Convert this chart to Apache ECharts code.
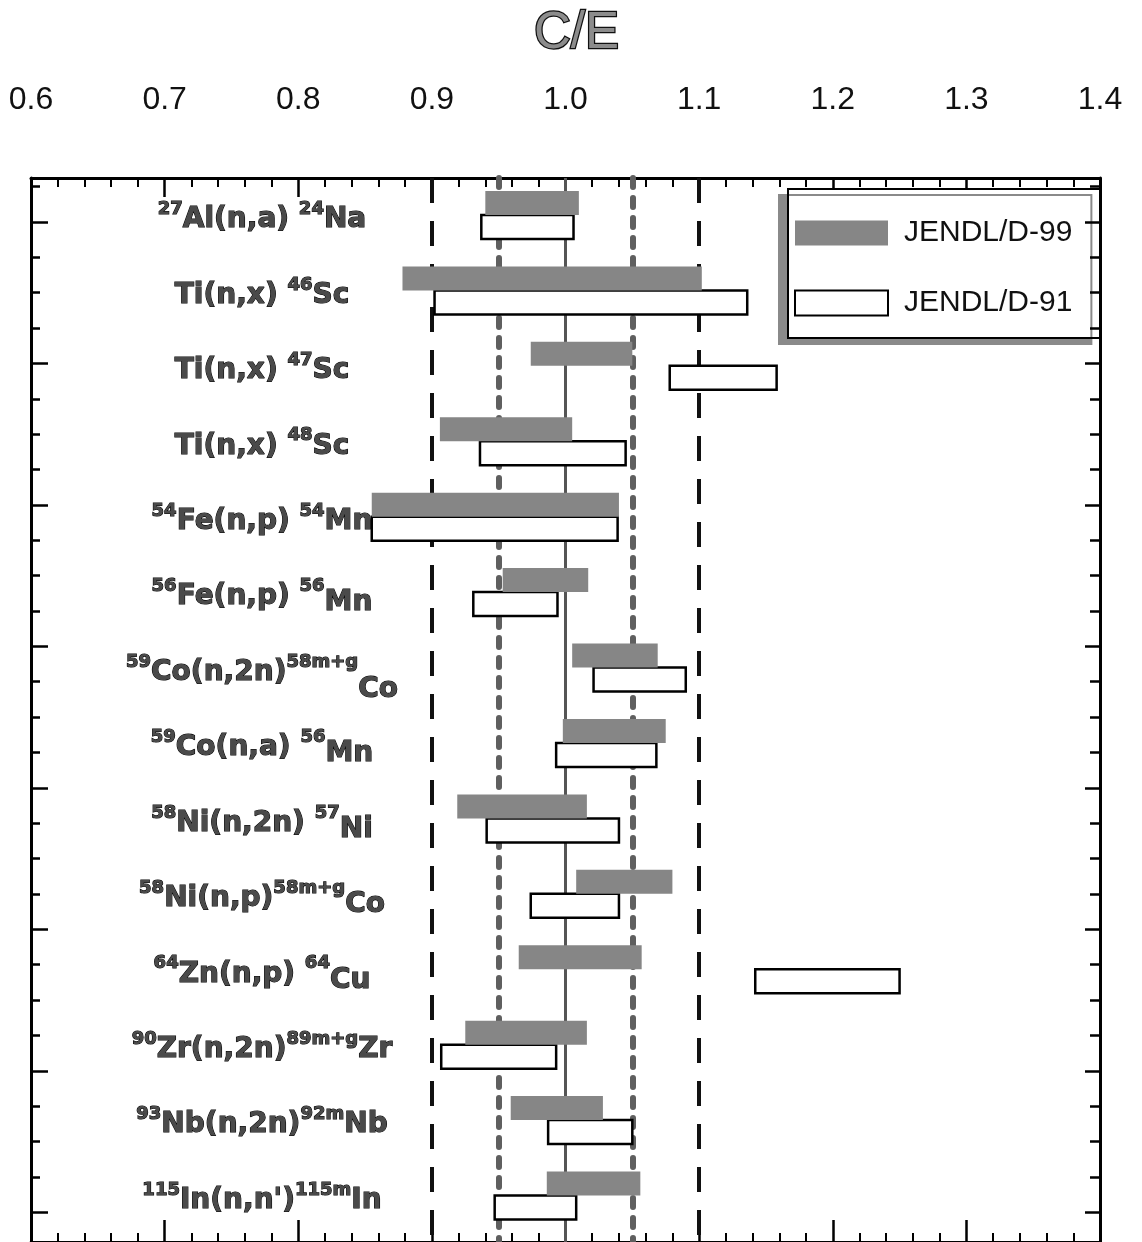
<!DOCTYPE html>
<html><head><meta charset="utf-8">
<script src="https://cdn.jsdelivr.net/npm/echarts@6/dist/echarts.min.js"></script>
<style>html,body{margin:0;padding:0;background:#fff}#c{width:1142px;height:1242px}</style>
</head><body><div id="c"></div>
<script>
// ---- data ----
const targetSup  = ['27', '',        '',        '',        '54',       '56',       '59',       '59',       '58',       '58',      '64',       '90',       '93',       '115'];
const reaction   = ['Al(n,a) ', 'Ti(n,x) ', 'Ti(n,x) ', 'Ti(n,x) ', 'Fe(n,p) ', 'Fe(n,p) ', 'Co(n,2n)', 'Co(n,a) ', 'Ni(n,2n) ', 'Ni(n,p)', 'Zn(n,p) ', 'Zr(n,2n)', 'Nb(n,2n)', "In(n,n')"];
const productSup = ['24', '46',      '47',      '48',      '54',       '56',       '58m+g',    '56',       '57',       '58m+g',   '64',       '89m+g',    '92m',      '115m'];
const product    = ['Na', 'Sc',      'Sc',      'Sc',      'Mn',       'Mn',       'Co',       'Mn',       'Ni',       'Co',      'Cu',       'Zr',       'Nb',       'In'];

const d99Low  = [0.940, 0.878, 0.974, 0.906, 0.855, 0.953, 1.005, 0.998, 0.919, 1.008, 0.965, 0.925, 0.959, 0.986];
const d99High = [1.010, 1.102, 1.050, 1.005, 1.040, 1.017, 1.069, 1.075, 1.016, 1.080, 1.057, 1.016, 1.028, 1.056];
const d91Low  = [0.937, 0.902, 1.078, 0.936, 0.855, 0.931, 1.021, 0.993, 0.941, 0.974, 1.142, 0.907, 0.987, 0.947];
const d91High = [1.006, 1.136, 1.158, 1.045, 1.039, 0.994, 1.090, 1.068, 1.040, 1.040, 1.250, 0.993, 1.050, 1.008];

const seriesNames = ['JENDL/D-99', 'JENDL/D-91'];
const dashedRefs = [0.9, 1.1];
const dottedRefs = [0.95, 1.05];
const solidRefs = [1.0];

// ---- layout / style (not data) ----
const tailStyle = ['t0','t0','t0','t0','t0','t6','t17','t6','t6','t6','t6','t0','t0','t0'];
const BAR_H = 24;
const LABEL_FONT = 'DejaVu Sans';
const labelFill = '#4a4a4a', labelEdge = '#000';

function richBase(size, extra) {
  return Object.assign({fontSize: size, lineHeight: 32, fontWeight: 'bold', fontFamily: LABEL_FONT,
    color: labelFill, textBorderColor: labelEdge, textBorderWidth: 1.1, verticalAlign: 'middle'}, extra || {});
}

const catIdx = reaction.map((_, i) => i);
const tickAll = []; for (let m = -1; m <= 28; m++) tickAll.push(m);
const tickMajor = tickAll.filter(m => m % 4 === 0);

function rangeRender(side) {
  return function (params, api) {
    const c = api.value(0);
    const p0 = api.coord([api.value(1), c]);
    const p1 = api.coord([api.value(2), c]);
    const y = side === 'top' ? p0[1] - BAR_H : p0[1];
    const st = side === 'top'
      ? {fill: '#868686', stroke: null}
      : {fill: '#ffffff', stroke: '#000', lineWidth: 2.5};
    return {type: 'rect', shape: {x: p0[0], y: y, width: p1[0] - p0[0], height: BAR_H}, style: st};
  };
}

const tickAxisBase = {type: 'value', inverse: true, min: -1.243, max: 28.842,
  axisLine: {show: false}, axisLabel: {show: false}, splitLine: {show: false}};

const option = {
  animation: false,
  backgroundColor: '#fff',
  title: {text: 'C/E', left: 534, top: 8, padding: 0,
    textStyle: {fontSize: 51, fontWeight: 'normal', fontFamily: 'Liberation Sans', color: '#8c8c8c',
      textBorderColor: '#111', textBorderWidth: 2.5}},
  legend: {
    data: seriesNames, orient: 'vertical', left: 788, top: 189,
    padding: [29, 28, 20, 6], itemGap: 40, itemWidth: 93, itemHeight: 25, icon: 'rect',
    backgroundColor: '#fff', borderColor: '#000', borderWidth: 2,
    shadowColor: '#8a8a8a', shadowBlur: 0, shadowOffsetX: -9, shadowOffsetY: 6,
    textStyle: {fontSize: 30, fontFamily: 'Liberation Sans', color: '#111', padding: [0, 0, 0, 11]},
    selectedMode: false
  },
  grid: {left: 31, right: 42, top: 178, bottom: -1},
  xAxis: [
    {type: 'value', position: 'top', min: 0.6, max: 1.4, interval: 0.1,
      axisLine: {onZero: false, lineStyle: {color: '#000', width: 3}},
      axisTick: {inside: true, length: 19, lineStyle: {color: '#000', width: 2.5}},
      minorTick: {show: true, splitNumber: 5, length: 9, lineStyle: {color: '#000', width: 2}},
      splitLine: {show: false},
      axisLabel: {margin: 62, fontSize: 32, fontFamily: 'Liberation Sans', color: '#111',
        formatter: v => v.toFixed(1)}},
    {type: 'value', position: 'bottom', min: 0.6, max: 1.4, interval: 0.1,
      axisLine: {onZero: false, lineStyle: {color: '#000', width: 3}},
      axisTick: {inside: true, length: 22, lineStyle: {color: '#000', width: 2.5}},
      minorTick: {show: true, splitNumber: 5, length: 9, lineStyle: {color: '#000', width: 2}},
      splitLine: {show: false}, axisLabel: {show: false}}
  ],
  yAxis: [
    {type: 'value', inverse: true, min: -0.49, max: 13.616, position: 'left',
      axisLine: {onZero: false, lineStyle: {color: '#000', width: 3}},
      axisTick: {show: false}, splitLine: {show: false},
      axisLabel: {
        customValues: catIdx, inside: true, margin: 231, align: 'center', padding: [10, 0, 0, 0],
        formatter: function (v) {
          const i = Math.round(v);
          let s = '';
          if (targetSup[i]) s += '{s|' + targetSup[i] + '}';
          s += '{m|' + reaction[i] + '}';
          s += '{s|' + productSup[i] + '}';
          s += '{' + tailStyle[i] + '|' + product[i] + '}';
          return s;
        },
        rich: {
          s: richBase(18, {padding: [0, 0, 21, 0]}),
          m: richBase(28),
          t0: richBase(28),
          t6: richBase(28, {padding: [12, 0, 0, 0]}),
          t17: richBase(28, {padding: [34, 0, 0, 0]})
        }
      }},
    Object.assign({}, tickAxisBase, {position: 'left',
      axisTick: {show: true, inside: true, length: 9, customValues: tickAll, lineStyle: {color: '#000', width: 2.5}}}),
    Object.assign({}, tickAxisBase, {position: 'left',
      axisTick: {show: true, inside: true, length: 17, customValues: tickMajor, lineStyle: {color: '#000', width: 2.5}}}),
    Object.assign({}, tickAxisBase, {position: 'right', z: 10,
      axisLine: {show: true, onZero: false, lineStyle: {color: '#000', width: 3}},
      axisTick: {show: true, inside: true, length: 10, customValues: tickAll, lineStyle: {color: '#000', width: 2.5}}}),
    Object.assign({}, tickAxisBase, {position: 'right', z: 10,
      axisTick: {show: true, inside: true, length: 15, customValues: tickMajor, lineStyle: {color: '#000', width: 2.5}}})
  ],
  series: [
    {type: 'line', name: 'ref', data: [], xAxisIndex: 0, yAxisIndex: 0, silent: true,
      markLine: {silent: true, z: 1, symbol: ['none', 'none'], label: {show: false},
        emphasis: {disabled: true},
        data: [].concat(
          dashedRefs.map(v => ({xAxis: v, lineStyle: {color: '#111', width: 4, type: [25, 18]}})),
          dottedRefs.map(v => ({xAxis: v, lineStyle: {color: '#5f5f5f', width: 6, type: [9, 11], cap: 'round'}})),
          solidRefs.map(v => ({xAxis: v, lineStyle: {color: '#555', width: 3, type: 'solid'}}))
        )}},
    {type: 'custom', name: seriesNames[1], xAxisIndex: 0, yAxisIndex: 0, z: 3,
      itemStyle: {color: '#ffffff', borderColor: '#000', borderWidth: 2.5},
      renderItem: rangeRender('bottom'), encode: {x: [1, 2], y: 0},
      data: d91Low.map((lo, i) => [i, lo, d91High[i]])},
    {type: 'custom', name: seriesNames[0], xAxisIndex: 0, yAxisIndex: 0, z: 4,
      itemStyle: {color: '#868686'},
      renderItem: rangeRender('top'), encode: {x: [1, 2], y: 0},
      data: d99Low.map((lo, i) => [i, lo, d99High[i]])}
  ]
};
echarts.init(document.getElementById('c')).setOption(option);
</script></body></html>
